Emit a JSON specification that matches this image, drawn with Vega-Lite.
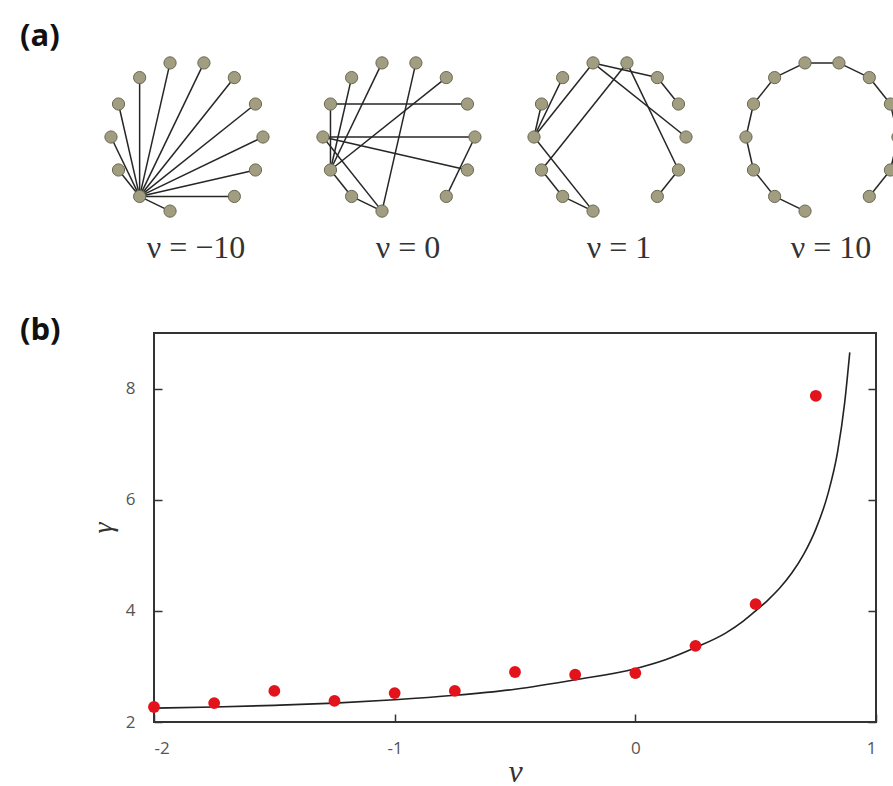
{
  "$schema": "https://vega.github.io/schema/vega-lite/v6.json",
  "padding": {"left": 18, "top": 0, "right": 0, "bottom": 0},
  "spacing": 0,
  "background": "white",
  "config": {"view": {"stroke": null}, "axis": {"grid": false}},
  "datasets": {
    "nodes": [
      {"id": "1-0", "x": 1.000, "y": 0.000}, {"id": "1-1", "x": 0.901, "y": 0.434}, {"id": "1-2", "x": 0.623, "y": 0.782},
      {"id": "1-3", "x": 0.223, "y": 0.975}, {"id": "1-4", "x": -0.223, "y": 0.975}, {"id": "1-5", "x": -0.623, "y": 0.782},
      {"id": "1-6", "x": -0.901, "y": 0.434}, {"id": "1-7", "x": -1.000, "y": 0.000}, {"id": "1-8", "x": -0.901, "y": -0.434},
      {"id": "1-9", "x": -0.623, "y": -0.782}, {"id": "1-10", "x": -0.223, "y": -0.975}, {"id": "1-12", "x": 0.623, "y": -0.782},
      {"id": "1-13", "x": 0.901, "y": -0.434},
      {"id": "2-0", "x": 3.789, "y": 0.000}, {"id": "2-1", "x": 3.690, "y": 0.434}, {"id": "2-2", "x": 3.412, "y": 0.782},
      {"id": "2-3", "x": 3.012, "y": 0.975}, {"id": "2-4", "x": 2.566, "y": 0.975}, {"id": "2-5", "x": 2.166, "y": 0.782},
      {"id": "2-6", "x": 1.888, "y": 0.434}, {"id": "2-7", "x": 1.789, "y": 0.000}, {"id": "2-8", "x": 1.888, "y": -0.434},
      {"id": "2-9", "x": 2.166, "y": -0.782}, {"id": "2-10", "x": 2.566, "y": -0.975}, {"id": "2-12", "x": 3.412, "y": -0.782},
      {"id": "2-13", "x": 3.690, "y": -0.434},
      {"id": "3-0", "x": 6.566, "y": 0.000}, {"id": "3-1", "x": 6.467, "y": 0.434}, {"id": "3-2", "x": 6.189, "y": 0.782},
      {"id": "3-3", "x": 5.789, "y": 0.975}, {"id": "3-4", "x": 5.343, "y": 0.975}, {"id": "3-5", "x": 4.943, "y": 0.782},
      {"id": "3-6", "x": 4.665, "y": 0.434}, {"id": "3-7", "x": 4.566, "y": 0.000}, {"id": "3-8", "x": 4.665, "y": -0.434},
      {"id": "3-9", "x": 4.943, "y": -0.782}, {"id": "3-10", "x": 5.343, "y": -0.975}, {"id": "3-12", "x": 6.189, "y": -0.782},
      {"id": "3-13", "x": 6.467, "y": -0.434},
      {"id": "4-0", "x": 9.355, "y": 0.000}, {"id": "4-1", "x": 9.256, "y": 0.434}, {"id": "4-2", "x": 8.978, "y": 0.782},
      {"id": "4-3", "x": 8.578, "y": 0.975}, {"id": "4-4", "x": 8.132, "y": 0.975}, {"id": "4-5", "x": 7.732, "y": 0.782},
      {"id": "4-6", "x": 7.454, "y": 0.434}, {"id": "4-7", "x": 7.355, "y": 0.000}, {"id": "4-8", "x": 7.454, "y": -0.434},
      {"id": "4-9", "x": 7.732, "y": -0.782}, {"id": "4-10", "x": 8.132, "y": -0.975}, {"id": "4-12", "x": 8.978, "y": -0.782},
      {"id": "4-13", "x": 9.256, "y": -0.434}
    ],
    "edges": [
      {"a": "1-9", "b": "1-0"}, {"a": "1-9", "b": "1-1"}, {"a": "1-9", "b": "1-2"}, {"a": "1-9", "b": "1-3"},
      {"a": "1-9", "b": "1-4"}, {"a": "1-9", "b": "1-5"}, {"a": "1-9", "b": "1-6"}, {"a": "1-9", "b": "1-7"},
      {"a": "1-9", "b": "1-8"}, {"a": "1-9", "b": "1-10"}, {"a": "1-9", "b": "1-12"}, {"a": "1-9", "b": "1-13"},
      {"a": "2-6", "b": "2-1"}, {"a": "2-7", "b": "2-0"}, {"a": "2-7", "b": "2-13"}, {"a": "2-6", "b": "2-8"},
      {"a": "2-5", "b": "2-8"}, {"a": "2-4", "b": "2-8"}, {"a": "2-3", "b": "2-10"}, {"a": "2-2", "b": "2-8"},
      {"a": "2-7", "b": "2-10"}, {"a": "2-8", "b": "2-9"}, {"a": "2-9", "b": "2-10"}, {"a": "2-0", "b": "2-12"},
      {"a": "3-4", "b": "3-7"}, {"a": "3-3", "b": "3-8"}, {"a": "3-4", "b": "3-0"}, {"a": "3-3", "b": "3-13"},
      {"a": "3-4", "b": "3-2"}, {"a": "3-7", "b": "3-10"}, {"a": "3-8", "b": "3-9"}, {"a": "3-9", "b": "3-10"},
      {"a": "3-5", "b": "3-7"}, {"a": "3-6", "b": "3-7"}, {"a": "3-2", "b": "3-1"}, {"a": "3-13", "b": "3-12"},
      {"a": "4-10", "b": "4-9"}, {"a": "4-9", "b": "4-8"}, {"a": "4-8", "b": "4-7"}, {"a": "4-7", "b": "4-6"},
      {"a": "4-6", "b": "4-5"}, {"a": "4-5", "b": "4-4"}, {"a": "4-4", "b": "4-3"}, {"a": "4-3", "b": "4-2"},
      {"a": "4-2", "b": "4-1"}, {"a": "4-1", "b": "4-0"}, {"a": "4-0", "b": "4-13"}, {"a": "4-13", "b": "4-12"}
    ],
    "labels": [
      {"x": 0.0, "y": -1.46, "t": "ν  =  −10"},
      {"x": 2.789, "y": -1.46, "t": "ν  =  0"},
      {"x": 5.566, "y": -1.46, "t": "ν  =  1"},
      {"x": 8.355, "y": -1.46, "t": "ν  =  10"}
    ],
    "points": [
      {"nu": -2.0, "gamma": 2.27}, {"nu": -1.75, "gamma": 2.34}, {"nu": -1.5, "gamma": 2.56},
      {"nu": -1.25, "gamma": 2.38}, {"nu": -1.0, "gamma": 2.52}, {"nu": -0.75, "gamma": 2.56},
      {"nu": -0.5, "gamma": 2.90}, {"nu": -0.25, "gamma": 2.85}, {"nu": 0.0, "gamma": 2.88},
      {"nu": 0.25, "gamma": 3.37}, {"nu": 0.5, "gamma": 4.12}, {"nu": 0.75, "gamma": 7.87}
    ],
    "curve": [
      {"nu": -2.0, "gamma": 2.25}, {"nu": -1.75, "gamma": 2.27}, {"nu": -1.5, "gamma": 2.30},
      {"nu": -1.25, "gamma": 2.34}, {"nu": -1.0, "gamma": 2.40}, {"nu": -0.75, "gamma": 2.48},
      {"nu": -0.5, "gamma": 2.59}, {"nu": -0.25, "gamma": 2.76}, {"nu": 0.0, "gamma": 2.96},
      {"nu": 0.125, "gamma": 3.12}, {"nu": 0.25, "gamma": 3.34}, {"nu": 0.375, "gamma": 3.60},
      {"nu": 0.45, "gamma": 3.82}, {"nu": 0.5, "gamma": 4.0}, {"nu": 0.55, "gamma": 4.19},
      {"nu": 0.6, "gamma": 4.41}, {"nu": 0.65, "gamma": 4.68}, {"nu": 0.7, "gamma": 5.02},
      {"nu": 0.75, "gamma": 5.47}, {"nu": 0.8, "gamma": 6.10}, {"nu": 0.84, "gamma": 6.85},
      {"nu": 0.87, "gamma": 7.75}, {"nu": 0.891, "gamma": 8.65}
    ]
  },
  "vconcat": [
    {
      "width": 741,
      "height": 313,
      "view": {"stroke": null},
      "encoding": {
        "x": {"type": "quantitative", "scale": {"domain": [-0.434, 9.316], "nice": false, "zero": false}, "axis": null},
        "y": {"type": "quantitative", "scale": {"domain": [-2.316, 1.803], "nice": false, "zero": false}, "axis": null}
      },
      "layer": [
        {
          "data": {"name": "edges"},
          "transform": [
            {"filter": "indexof(datum.a, '4-') !== 0"},
            {"lookup": "a", "from": {"data": {"name": "nodes"}, "key": "id", "fields": ["x", "y"]}, "as": ["xa", "ya"]},
            {"lookup": "b", "from": {"data": {"name": "nodes"}, "key": "id", "fields": ["x", "y"]}, "as": ["xb", "yb"]}
          ],
          "mark": {"type": "rule", "color": "#262626", "strokeWidth": 1.5, "clip": false},
          "encoding": {
            "x": {"field": "xa", "type": "quantitative"},
            "y": {"field": "ya", "type": "quantitative"},
            "x2": {"field": "xb"},
            "y2": {"field": "yb"}
          }
        },
        {
          "data": {"name": "edges"},
          "transform": [
            {"filter": "indexof(datum.a, '4-') === 0"},
            {"lookup": "a", "from": {"data": {"name": "nodes"}, "key": "id", "fields": ["x", "y"]}, "as": ["xa", "ya"]},
            {"lookup": "b", "from": {"data": {"name": "nodes"}, "key": "id", "fields": ["x", "y"]}, "as": ["xb", "yb"]}
          ],
          "mark": {"type": "rule", "color": "#262626", "strokeWidth": 1.5, "clip": true},
          "encoding": {
            "x": {"field": "xa", "type": "quantitative"},
            "y": {"field": "ya", "type": "quantitative"},
            "x2": {"field": "xb"},
            "y2": {"field": "yb"}
          }
        },
        {
          "data": {"name": "nodes"},
          "transform": [{"filter": "indexof(datum.id, '4-') !== 0"}],
          "mark": {"type": "circle", "fill": "#a19d80", "stroke": "#6b6852", "strokeWidth": 1, "size": 150, "opacity": 1, "clip": false},
          "encoding": {
            "x": {"field": "x", "type": "quantitative"},
            "y": {"field": "y", "type": "quantitative"}
          }
        },
        {
          "data": {"name": "nodes"},
          "transform": [{"filter": "indexof(datum.id, '4-') === 0"}],
          "mark": {"type": "circle", "fill": "#a19d80", "stroke": "#6b6852", "strokeWidth": 1, "size": 150, "opacity": 1, "clip": true},
          "encoding": {
            "x": {"field": "x", "type": "quantitative"},
            "y": {"field": "y", "type": "quantitative"}
          }
        },
        {
          "data": {"name": "labels"},
          "mark": {"type": "text", "font": "Liberation Serif", "fontSize": 32, "color": "#333", "dx": 9, "baseline": "middle", "align": "center"},
          "encoding": {
            "x": {"field": "x", "type": "quantitative"},
            "y": {"field": "y", "type": "quantitative"},
            "text": {"field": "t"}
          }
        },
        {
          "data": {"values": [{"x": -2.197, "y": 1.316, "t": "(a)"}]},
          "mark": {"type": "text", "font": "Open Sans", "fontWeight": "bold", "fontSize": 31, "color": "#111", "align": "left", "baseline": "middle"},
          "encoding": {
            "x": {"field": "x", "type": "quantitative"},
            "y": {"field": "y", "type": "quantitative"},
            "text": {"field": "t"}
          }
        }
      ]
    },
    {
      "width": 722,
      "height": 389,
      "view": {"stroke": "#333", "strokeWidth": 2},
      "layer": [
        {
          "data": {"name": "curve"},
          "mark": {"type": "line", "color": "#222", "strokeWidth": 1.6, "interpolate": "monotone"},
          "encoding": {
            "x": {"field": "nu", "type": "quantitative", "scale": {"domain": [-2, 1], "nice": false, "zero": false},
              "axis": {"orient": "bottom", "values": [-2, -1, 0, 1], "labelExpr": "'' + datum.value", "title": "ν",
                "titleFont": "Liberation Serif", "titleFontStyle": "italic", "titleFontWeight": "normal", "titleFontSize": 32,
                "titleColor": "#333", "titlePadding": 0, "labelFont": "Open Sans", "labelFontSize": 17, "labelColor": "#555",
                "labelPadding": 26, "tickSize": -8, "tickColor": "#333", "tickWidth": 1.5, "domain": false}},
            "y": {"field": "gamma", "type": "quantitative", "scale": {"domain": [2, 9], "nice": false, "zero": false},
              "axis": {"orient": "left", "values": [2, 4, 6, 8], "title": "γ", "titleFont": "Liberation Serif",
                "titleFontStyle": "italic", "titleFontWeight": "normal", "titleFontSize": 28, "titleColor": "#333",
                "titlePadding": 8, "labelFont": "Open Sans", "labelFontSize": 17, "labelColor": "#555", "labelPadding": 27,
                "tickSize": -8, "tickColor": "#333", "tickWidth": 1.5, "domain": false}}
          }
        },
        {
          "data": {"name": "points"},
          "mark": {"type": "circle", "color": "#e3131c", "size": 140, "opacity": 1},
          "encoding": {
            "x": {"field": "nu", "type": "quantitative"},
            "y": {"field": "gamma", "type": "quantitative",
              "axis": {"orient": "right", "values": [2, 4, 6, 8], "labels": false, "title": null, "tickSize": -8,
                "tickColor": "#333", "tickWidth": 1.5, "domain": false}}
          }
        },
        {
          "data": {"values": [{"nu": -2.557, "gamma": 9.036, "t": "(b)"}]},
          "mark": {"type": "text", "font": "Open Sans", "fontWeight": "bold", "fontSize": 31, "color": "#111", "align": "left", "baseline": "middle", "clip": false},
          "encoding": {
            "x": {"field": "nu", "type": "quantitative"},
            "y": {"field": "gamma", "type": "quantitative", "axis": null},
            "text": {"field": "t"}
          }
        }
      ],
      "resolve": {"axis": {"y": "independent"}}
    }
  ]
}
